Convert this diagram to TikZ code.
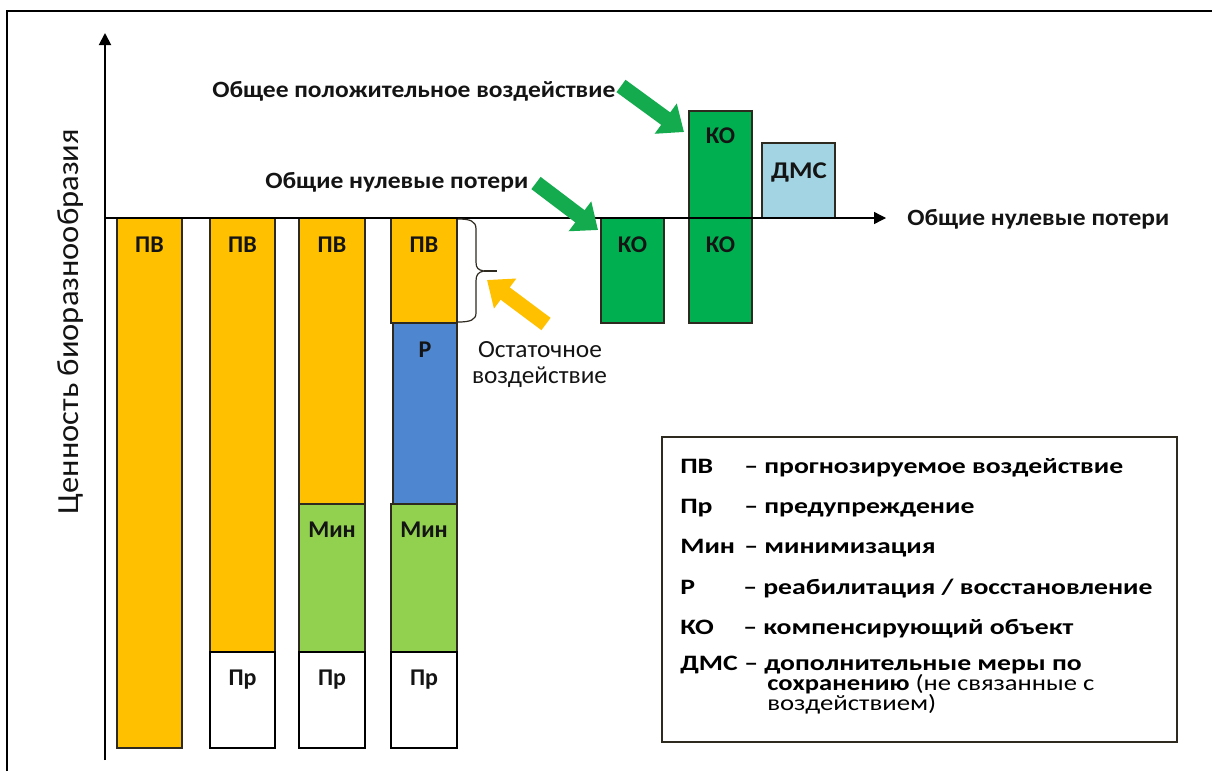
\documentclass[tikz,border=0pt]{standalone}
\usepackage{fontspec}
\setmainfont{Carlito}
\usetikzlibrary{arrows.meta}
\definecolor{pvc}{HTML}{FFC000}
\definecolor{minc}{HTML}{92D050}
\definecolor{rc}{HTML}{4F86D0}
\definecolor{koc}{HTML}{00B050}
\definecolor{dmsc}{HTML}{A2D4E3}
\definecolor{edgec}{HTML}{2E2A20}
\definecolor{txtc}{HTML}{141414}
\definecolor{garrow}{HTML}{14AA4E}
\definecolor{oarrow}{HTML}{FFC000}
\newlength\pxu
\setlength\pxu{0.75pt}
\newcommand\lgs[1]{\scalebox{1.26}[1]{#1}}
\begin{document}
\begin{tikzpicture}[x=0.75pt,y=-0.75pt,
  seg/.style={draw=edgec,line width=0.9pt},
  prbox/.style={draw=black,line width=1.6pt,fill=white},
  barlbl/.style={font=\fontsize{18}{21}\selectfont\bfseries,text=txtc,inner sep=0pt,anchor=base},
  chartlbl/.style={font=\fontsize{17.5}{21}\selectfont\bfseries,text=txtc,inner sep=0pt},
  reglbl/.style={font=\fontsize{18.5}{22}\selectfont,text=txtc,inner sep=0pt},
  lgd/.style={font=\fontsize{16.5}{20}\selectfont\bfseries,text=black,inner sep=0pt,anchor=base west},
  fatarrow/.style={line width=11.5pt,-{Triangle[length=17pt,width=27pt]}},
  axisline/.style={draw=black,-{Triangle[length=9pt,width=9pt]}}
]
\useasboundingbox (0,0) rectangle (1212,771);
\fill[white] (0,0) rectangle (1212,771);
% frame
\draw[line width=2.2pt] (7,771) -- (7,11) -- (1212,11);

% bar 1
\draw[seg,fill=pvc] (117,218) rectangle (182,748);
% bar 2
\draw[seg,fill=pvc] (210,218) rectangle (275,652);
\draw[prbox] (210,652) rectangle (275,748);
% bar 3
\draw[seg,fill=pvc] (299,218) rectangle (365,504);
\draw[seg,fill=minc] (299,504) rectangle (365,652);
\draw[prbox] (299,652) rectangle (365,748);
% bar 4
\draw[seg,fill=pvc] (391,218) rectangle (457,323);
\draw[seg,fill=rc] (393,323) rectangle (457,504);
\draw[seg,fill=minc] (391,504) rectangle (457,652);
\draw[prbox] (391,652) rectangle (457,748);
% compensating objects
\draw[seg,fill=koc] (601,218) rectangle (664,323);
\draw[seg,fill=koc] (689,218) rectangle (752,323);
\draw[seg,fill=koc] (689,111) rectangle (752,218);
\draw[seg,fill=dmsc] (762,143) rectangle (835,218);

% axes
\coordinate (ybot) at (105,760);
\coordinate (ytop) at (105,33);
\coordinate (xorg) at (105,218);
\coordinate (xend) at (886,218);
\draw[axisline,line width=1.4pt] (ybot) -- (ytop);
\draw[axisline,line width=1pt] (xorg) -- (xend);

% bar labels
\node[barlbl] (pv1) at (149.5,252) {ПВ};
\node[barlbl] (pv2) at (242.5,252) {ПВ};
\node[barlbl] (pv3) at (332,252) {ПВ};
\node[barlbl] (pv4) at (424,252) {ПВ};
\node[barlbl] (min3) at (332,537) {Мин};
\node[barlbl] (min4) at (424,537) {Мин};
\node[barlbl] (pr2) at (242.5,685) {Пр};
\node[barlbl] (pr3) at (332,685) {Пр};
\node[barlbl] (pr4) at (424,685) {Пр};
\node[barlbl] (r4) at (425,357) {Р};
\node[barlbl] (ko1) at (632.5,252) {КО};
\node[barlbl] (ko2) at (720.5,252) {КО};
\node[barlbl] (ko3) at (720.5,143) {КО};
\node[barlbl] (dms) at (799,178) {\scalebox{1.12}[1]{ДМС}};

% chart texts
\node[chartlbl,anchor=base west] (tpos) at (212,97) {\resizebox{403\pxu}{\height}{Общее положительное воздействие}};
\node[chartlbl,anchor=base west] (tzero) at (265,188) {\resizebox{263\pxu}{\height}{Общие нулевые потери}};
\node[chartlbl,anchor=base west] (tzero2) at (907,225) {\resizebox{262\pxu}{\height}{Общие нулевые потери}};
\node[reglbl,anchor=base] (ost1) at (540,357) {\resizebox{124\pxu}{\height}{Остаточное}};
\node[reglbl,anchor=base] (ost2) at (539.5,383) {\resizebox{135\pxu}{\height}{воздействие}};
\node[font=\fontsize{23}{27}\selectfont,text=txtc,inner sep=0pt,rotate=90,anchor=base] (ylab) at (78,321.5) {\resizebox{385\pxu}{\height}{Ценность биоразнообразия}};

% brace for residual impact
\draw[edgec,line width=0.9pt] (458,219) .. controls (470,219) and (476,221) .. (476,229) -- (476,262) .. controls (476,268) and (478,270) .. (484,271) .. controls (478,272) and (476,275) .. (476,281) -- (476,313) .. controls (476,320) and (470,322) .. (458,322);
\coordinate (bracetip) at (484,271);
\coordinate (bracetick) at (497,271);
\draw[edgec,line width=0.9pt] (bracetip) -- (bracetick);

% pointer arrows
\coordinate (g1t) at (621,86);
\coordinate (g1h) at (684,132);
\coordinate (g2t) at (536,183);
\coordinate (g2h) at (598,230);
\coordinate (o1t) at (546,324);
\coordinate (o1h) at (487,280);
\draw[fatarrow,draw=garrow,fill=garrow] (g1t) -- (g1h);
\draw[fatarrow,draw=garrow,fill=garrow] (g2t) -- (g2h);
\draw[fatarrow,draw=oarrow,fill=oarrow] (o1t) -- (o1h);

% legend
\draw[line width=1.2pt,draw=edgec] (662,437) rectangle (1177,742);
\node[lgd] (l1a) at (680,473) {\lgs{ПВ}};
\node[lgd] (l1b) at (744,473) {\lgs{– прогнозируемое воздействие}};
\node[lgd] (l2a) at (680,513) {\lgs{Пр}};
\node[lgd] (l2b) at (744,513) {\lgs{– предупреждение}};
\node[lgd] (l3a) at (680,553) {\lgs{Мин}};
\node[lgd] (l3b) at (744,553) {\lgs{– минимизация}};
\node[lgd] (l4a) at (680,594) {\lgs{Р}};
\node[lgd] (l4b) at (743,594) {\lgs{– реабилитация / восстановление}};
\node[lgd] (l5a) at (680,634) {\lgs{КО}};
\node[lgd] (l5b) at (743,634) {\lgs{– компенсирующий объект}};
\node[lgd] (l6a) at (680,670) {\lgs{ДМС}};
\node[lgd] (l6b) at (744,670) {\lgs{– дополнительные меры по}};
\node[lgd] (l7) at (767,690) {\resizebox{327\pxu}{\height}{сохранению {\mdseries(не связанные с}}};
\node[lgd] (l8) at (767,710) {\resizebox{169\pxu}{\height}{\mdseries воздействием)}};
\end{tikzpicture}
\end{document}
